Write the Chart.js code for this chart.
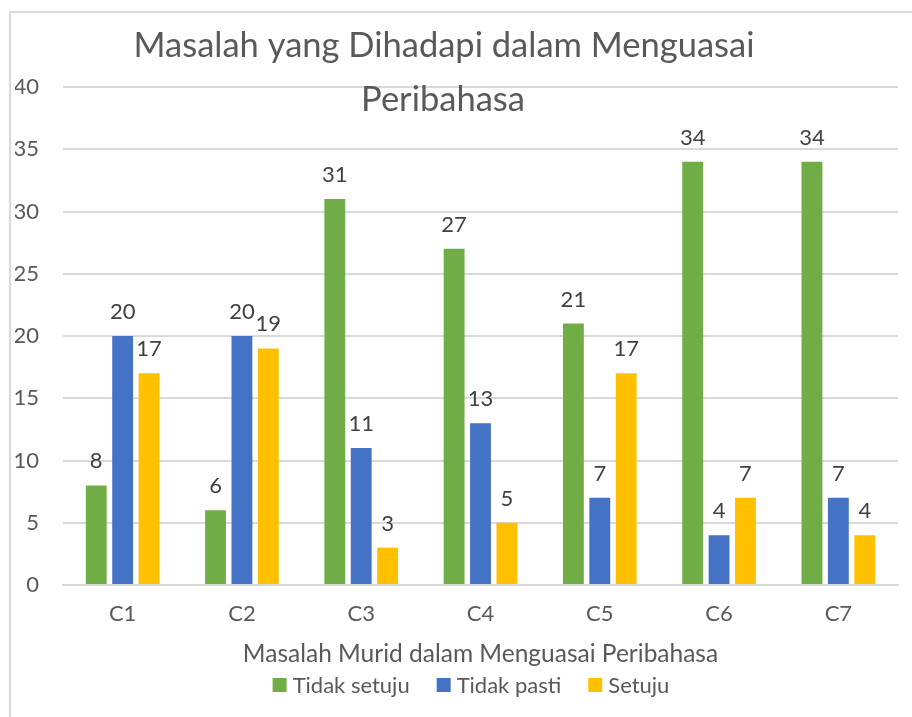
<!DOCTYPE html>
<html>
<head>
<meta charset="utf-8">
<script src="https://cdn.jsdelivr.net/npm/chart.js@4.4.1/dist/chart.umd.min.js"></script>
<style>
  html, body { margin: 0; padding: 0; background: #fff; overflow: hidden; }
  #frame { position: absolute; left: 9px; top: 11px; width: 940px; height: 760px; border: 2px solid #d9d9d9; }
  #wrap { position: absolute; left: 0; top: 0; width: 912px; height: 717px; }
</style>
</head>
<body>
<div id="frame"></div>
<div id="wrap"><canvas id="myChart"></canvas></div>
<script>
// chart data
var categories = ["C1", "C2", "C3", "C4", "C5", "C6", "C7"];
var tidakSetuju = [8, 6, 31, 27, 21, 34, 34];
var tidakPasti = [20, 20, 11, 13, 7, 4, 7];
var setuju = [17, 19, 3, 5, 17, 7, 4];
var titleLines = ["Masalah yang Dihadapi dalam Menguasai", "Peribahasa"];
var xTitle = "Masalah Murid dalam Menguasai Peribahasa";

var fontFamily = "Lato, 'Open Sans', sans-serif";

// numbers above each bar
var barLabels = {
  id: 'barLabels',
  afterDatasetsDraw: function(chart) {
    var ctx = chart.ctx;
    ctx.save();
    ctx.font = "22px " + fontFamily;
    ctx.fillStyle = "#404040";
    ctx.textAlign = "center";
    ctx.textBaseline = "alphabetic";
    chart.data.datasets.forEach(function(ds, i) {
      chart.getDatasetMeta(i).data.forEach(function(bar, j) {
        ctx.fillText(ds.data[j], bar.x, bar.y - 17);
      });
    });
    ctx.restore();
  }
};

// title drawn over the plot, like the excel original
var overlayTitle = {
  id: 'overlayTitle',
  afterDraw: function(chart) {
    var ctx = chart.ctx;
    ctx.save();
    ctx.font = "34.5px " + fontFamily;
    ctx.fillStyle = "#595959";
    ctx.textAlign = "center";
    ctx.textBaseline = "alphabetic";
    ctx.fillText(titleLines[0], 444, 57);
    ctx.fillText(titleLines[1], 443, 111);
    ctx.restore();
  }
};

// legend row under the axis title (drawn by hand to get excel spacing)
var bottomLegend = {
  id: 'bottomLegend',
  afterDraw: function(chart) {
    var ctx = chart.ctx;
    var box = 14, gap = 6, itemGap = 27, y = 685;
    ctx.save();
    ctx.font = "22px " + fontFamily;
    ctx.textBaseline = "middle";
    ctx.textAlign = "left";
    var items = chart.data.datasets.map(function(ds) {
      return { text: ds.label, color: ds.backgroundColor, w: ctx.measureText(ds.label).width };
    });
    var total = 0;
    items.forEach(function(it, i) { total += box + gap + it.w + (i ? itemGap : 0); });
    var x = 471 - total / 2;
    items.forEach(function(it) {
      ctx.fillStyle = it.color;
      ctx.fillRect(x, y - box / 2, box, box);
      ctx.fillStyle = "#595959";
      ctx.fillText(it.text, x + box + gap, y + 1);
      x += box + gap + it.w + itemGap;
    });
    ctx.restore();
  }
};

var ctx = document.getElementById('myChart').getContext('2d');
var myChart = new Chart(ctx, {
  type: 'bar',
  data: {
    labels: categories,
    datasets: [
      { label: 'Tidak setuju', data: tidakSetuju, backgroundColor: '#70AD47' },
      { label: 'Tidak pasti', data: tidakPasti, backgroundColor: '#4472C4' },
      { label: 'Setuju', data: setuju, backgroundColor: '#FFC000' }
    ]
  },
  options: {
    responsive: true,
    maintainAspectRatio: false,
    animation: false,
    categoryPercentage: 0.664,
    barPercentage: 0.79,
    layout: { padding: { top: 87, left: 15, right: 14, bottom: 48 } },
    plugins: {
      title: { display: false },
      tooltip: { enabled: false },
      legend: { display: false }
    },
    scales: {
      x: {
        afterFit: function(scale) { scale.height = 84; },
        grid: { display: false, drawTicks: false },
        border: { color: '#d9d9d9', width: 2 },
        ticks: { color: '#595959', padding: 16, font: { family: fontFamily, size: 22 } },
        title: {
          display: true,
          text: xTitle,
          color: '#595959',
          padding: { top: 13, bottom: 0 },
          font: { family: fontFamily, size: 24.5 }
        }
      },
      y: {
        afterFit: function(scale) { scale.width = 48; },
        min: 0,
        max: 40,
        ticks: { stepSize: 5, color: '#595959', padding: 24, font: { family: fontFamily, size: 22 } },
        grid: { color: '#d9d9d9', lineWidth: 2, drawTicks: false },
        border: { display: false }
      }
    }
  },
  plugins: [barLabels, overlayTitle, bottomLegend]
});
</script>
</body>
</html>
